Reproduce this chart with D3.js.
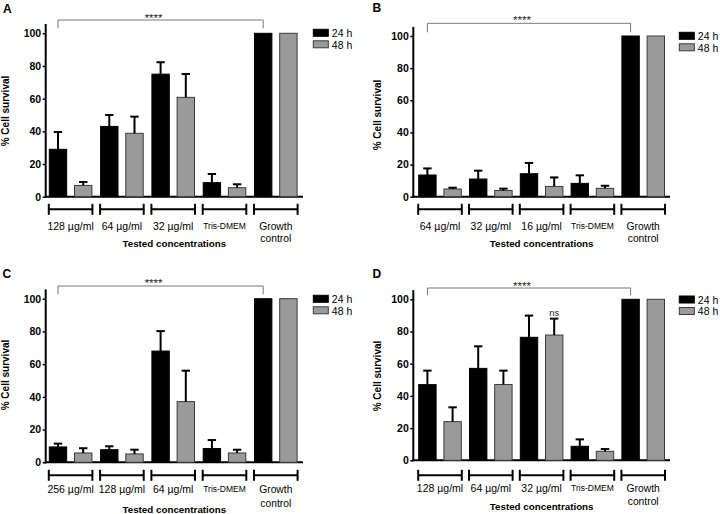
<!DOCTYPE html>
<html>
<head>
<meta charset="utf-8">
<script src="https://cdn.jsdelivr.net/npm/d3@7"></script>
<style>
  html, body { margin: 0; padding: 0; background: #fff; }
  svg { display: block; font-family: "Liberation Sans", Arial, sans-serif; }
</style>
</head>
<body>
<svg id="chart" width="720" height="514"></svg>
<script>
// ---------------- DATA ----------------
const seriesNames = ["24 h", "48 h"];
const yTicks = [0, 20, 40, 60, 80, 100];

const catsA = ["128 µg/ml", "64 µg/ml", "32 µg/ml", "Tris-DMEM", "Growth control"];
const a24 = [29, 43, 75, 8.6, 100];
const a24Err = [10.6, 7, 7.3, 5.3, 0];
const a48 = [6.9, 38.8, 60.8, 5.5, 100];
const a48Err = [2.1, 10.2, 14.3, 2.1, 0];

const catsB = ["64 µg/ml", "32 µg/ml", "16 µg/ml", "Tris-DMEM", "Growth control"];
const b24 = [13.5, 11, 14.3, 8.3, 100];
const b24Err = [4.1, 5.2, 6.7, 5, 0];
const b48 = [4.8, 3.9, 6.4, 5.2, 100];
const b48Err = [0.8, 1.1, 5.6, 1.6, 0];

const catsC = ["256 µg/ml", "128 µg/ml", "64 µg/ml", "Tris-DMEM", "Growth control"];
const c24 = [9.4, 7.7, 68, 8.4, 100];
const c24Err = [2, 2.1, 12.2, 5.2, 0];
const c48 = [5.7, 5.1, 37.1, 5.7, 100];
const c48Err = [2.9, 2.6, 18.9, 2, 0];

const catsD = ["128 µg/ml", "64 µg/ml", "32 µg/ml", "Tris-DMEM", "Growth control"];
const d24 = [47, 57.1, 76.4, 8.7, 100];
const d24Err = [8.7, 13.7, 13.5, 4.3, 0];
const d48 = [24, 47.1, 77.8, 5.6, 100];
const d48Err = [8.9, 8.6, 10.2, 1.4, 0];

const panelLetters = ["A", "B", "C", "D"];
const sigLabel = "****";
const nsLabel = "ns";
const xTitle = "Tested concentrations";
const yTitle = "% Cell survival";

// ---------------- LAYOUT ----------------
const panels = [
  { letter: panelLetters[0], cats: catsA, v: [a24, a48], e: [a24Err, a48Err],
    axisX: 45.7, axisEnd: 303, y0: 196.7, y100: 33.3, firstBar: 49.3, step: 51.3,
    letterX: 3, letterY: 12.7, yTitleX: 5.5, yTitleY: 111,
    bracketY: 209.3, labelY: 230, controlY: 241.7, titleY: 246.7,
    sigY: 20, sigDrop: 28.3, sigTextY: 21.5, legX: 313.3, legY: 29.3 },
  { letter: panelLetters[1], cats: catsB, v: [b24, b48], e: [b24Err, b48Err],
    axisX: 413.3, axisEnd: 670, y0: 196.7, y100: 36, firstBar: 418.7, step: 50.8,
    letterX: 372.5, letterY: 11.7, yTitleX: 377, yTitleY: 115,
    bracketY: 209.3, labelY: 230, controlY: 241.7, titleY: 247.3,
    sigY: 23.3, sigDrop: 32.3, sigTextY: 23.7, legX: 679.3, legY: 32.3 },
  { letter: panelLetters[2], cats: catsC, v: [c24, c48], e: [c24Err, c48Err],
    axisX: 45.7, axisEnd: 303, y0: 462.3, y100: 298.7, firstBar: 49.3, step: 51.3,
    letterX: 2.5, letterY: 277.7, yTitleX: 5.5, yTitleY: 375,
    bracketY: 475.3, labelY: 492.7, controlY: 507, titleY: 513,
    sigY: 286, sigDrop: 294.3, sigTextY: 287, legX: 313.3, legY: 295.3 },
  { letter: panelLetters[3], cats: catsD, v: [d24, d48], e: [d24Err, d48Err],
    axisX: 413.3, axisEnd: 670, y0: 460.3, y100: 299.3, firstBar: 418.7, step: 50.8,
    letterX: 372.5, letterY: 277.7, yTitleX: 377, yTitleY: 376,
    bracketY: 475.3, labelY: 492, controlY: 505.3, titleY: 510.3,
    sigY: 288, sigDrop: 295.3, sigTextY: 289.5, legX: 679.3, legY: 296, ns: { series: 1, index: 2 } }
];

const colors = { "24 h": "#000000", "48 h": "#9a9a9a" };
const svg = d3.select("#chart");
const FONT = '"Liberation Sans", Arial, sans-serif';

panels.forEach(p => {
  const g = svg.append("g");
  const y = d3.scaleLinear().domain([0, 100]).range([p.y0, p.y100]);
  const x = d3.scaleBand().domain(p.cats)
    .range([p.firstBar, p.firstBar + p.cats.length * p.step]).paddingInner(0).paddingOuter(0);
  const groupW = 42.6;
  const xs = d3.scaleBand().domain(seriesNames).range([0, groupW]).paddingInner(0.31).paddingOuter(0);

  // panel letter
  g.append("text").attr("x", p.letterX).attr("y", p.letterY)
    .attr("font-size", 12).attr("font-weight", "bold").text(p.letter);

  // y axis
  const yAxis = d3.axisLeft(y).tickValues(yTicks).tickSize(3).tickPadding(1.5).tickSizeOuter(0);
  const ag = g.append("g").attr("transform", `translate(${p.axisX},0)`).call(yAxis);
  ag.select(".domain").remove();
  ag.selectAll(".tick line").attr("stroke", "#000").attr("stroke-width", 1.5);
  ag.selectAll(".tick text").attr("font-size", 10.5).attr("font-weight", "bold")
    .attr("font-family", FONT).attr("fill", "#000");
  g.append("line").attr("x1", p.axisX).attr("x2", p.axisX)
    .attr("y1", y(0) + 1).attr("y2", y(105.7)).attr("stroke", "#000").attr("stroke-width", 2);
  // x axis baseline
  g.append("line").attr("x1", p.axisX - 1).attr("x2", p.axisEnd)
    .attr("y1", y(0)).attr("y2", y(0)).attr("stroke", "#000").attr("stroke-width", 2);

  // y title
  g.append("text").attr("transform", `translate(${p.yTitleX},${p.yTitleY}) rotate(-90)`)
    .attr("text-anchor", "middle").attr("dominant-baseline", "central")
    .attr("font-size", 10).attr("font-weight", "bold").text(yTitle);

  // bars + error bars
  seriesNames.forEach((s, si) => {
    const vals = p.v[si], errs = p.e[si];
    p.cats.forEach((c, ci) => {
      const bx = x(c) + xs(s), bw = xs.bandwidth();
      g.append("rect").attr("x", bx).attr("y", y(vals[ci]))
        .attr("width", bw).attr("height", y(0) - y(vals[ci]))
        .attr("fill", colors[s]).attr("stroke", si === 0 ? "#000" : "#3a3a3a").attr("stroke-width", 1);
      if (errs[ci] > 0) {
        const cx = bx + bw / 2, top = y(vals[ci] + errs[ci]);
        g.append("line").attr("x1", cx).attr("x2", cx).attr("y1", y(vals[ci])).attr("y2", top)
          .attr("stroke", "#000").attr("stroke-width", 2);
        g.append("line").attr("x1", cx - 4.2).attr("x2", cx + 4.2).attr("y1", top).attr("y2", top)
          .attr("stroke", "#000").attr("stroke-width", 2);
      }
    });
  });

  // ns label
  if (p.ns) {
    const s = seriesNames[p.ns.series], c = p.cats[p.ns.index];
    const cx = x(c) + xs(s) + xs.bandwidth() / 2;
    const top = y(p.v[p.ns.series][p.ns.index] + p.e[p.ns.series][p.ns.index]);
    g.append("text").attr("x", cx).attr("y", top - 2.5).attr("text-anchor", "middle")
      .attr("font-size", 9.5).attr("fill", "#222").text(nsLabel);
  }

  // category brackets + labels
  p.cats.forEach(c => {
    const x1 = x(c) - 0.5, x2 = x(c) + groupW + 0.5;
    const by = p.bracketY;
    g.append("line").attr("x1", x1).attr("x2", x2).attr("y1", by).attr("y2", by)
      .attr("stroke", "#000").attr("stroke-width", 2);
    [x1, x2].forEach(xx => g.append("line").attr("x1", xx).attr("x2", xx)
      .attr("y1", by - 5.5).attr("y2", by + 5.5).attr("stroke", "#000").attr("stroke-width", 2));
    const cx = x(c) + groupW / 2;
    if (c === "Growth control") {
      g.append("text").attr("x", cx).attr("y", p.labelY).attr("text-anchor", "middle")
        .attr("font-size", 10.3).text("Growth");
      g.append("text").attr("x", cx).attr("y", p.controlY).attr("text-anchor", "middle")
        .attr("font-size", 10.3).text("control");
    } else if (c === "Tris-DMEM") {
      g.append("text").attr("x", cx).attr("y", p.labelY - 0.7).attr("text-anchor", "middle")
        .attr("font-size", 8.5).text(c);
    } else {
      g.append("text").attr("x", cx).attr("y", p.labelY).attr("text-anchor", "middle")
        .attr("font-size", 10.5).text(c);
    }
  });

  // x title
  g.append("text").attr("x", (p.axisX + p.axisEnd) / 2).attr("y", p.titleY)
    .attr("text-anchor", "middle").attr("font-size", 9.8).attr("font-weight", "bold").text(xTitle);

  // significance bracket
  const sx1 = x(p.cats[0]) + xs(seriesNames[0]) + xs.bandwidth() / 2;
  const sx2 = x(p.cats[p.cats.length - 1]) + xs(seriesNames[0]) + xs.bandwidth() / 2;
  g.append("path")
    .attr("d", `M${sx1},${p.sigDrop}V${p.sigY}H${sx2}V${p.sigDrop}`)
    .attr("fill", "none").attr("stroke", "#777").attr("stroke-width", 1);
  g.append("text").attr("x", (sx1 + sx2) / 2 - 7).attr("y", p.sigTextY)
    .attr("text-anchor", "middle").attr("font-size", 11.5).attr("fill", "#222").text(sigLabel);

  // legend
  seriesNames.forEach((s, si) => {
    const ly = p.legY + si * 11.5;
    g.append("rect").attr("x", p.legX).attr("y", ly).attr("width", 15).attr("height", 7)
      .attr("fill", colors[s]).attr("stroke", si === 0 ? "#000" : "#3a3a3a").attr("stroke-width", 1);
    g.append("text").attr("x", p.legX + 18.5).attr("y", ly + 3.7)
      .attr("dominant-baseline", "central").attr("font-size", 10.5).text(s);
  });
});
</script>
</body>
</html>
